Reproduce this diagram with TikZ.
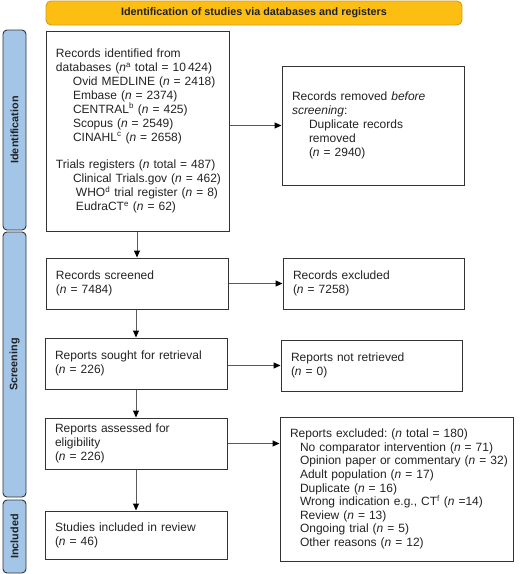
\documentclass[tikz,border=0pt]{standalone}
\usepackage{fontspec}
\setmainfont{Liberation Sans}
\usetikzlibrary{arrows.meta}
\definecolor{bannerfill}{HTML}{FDBE14}
\definecolor{bannerdraw}{HTML}{D49C16}
\definecolor{barfill}{HTML}{A3C5E8}
\definecolor{boxdraw}{HTML}{333333}
\definecolor{linegray}{HTML}{5A5A5A}
\definecolor{txt}{HTML}{222222}
\newcommand{\nn}{\textit{n}}
\newcommand{\lineind}[2]{\mbox{\hspace*{#1}#2}}
\frenchspacing
\begin{document}
\begin{tikzpicture}[x=1pt,y=-1pt,
  box/.style={draw=boxdraw, line width=1pt, rectangle, inner xsep=10pt, inner ysep=0pt,
    align=left, text=txt, font=\fontsize{12}{13.9}\selectfont},
  bar/.style={draw=boxdraw, line width=0.9pt, fill=barfill, rounded corners=4pt, rotate=90,
    inner sep=0pt, minimum height=23pt, text=txt, font=\bfseries\fontsize{10.8}{12}\selectfont},
  banner/.style={draw=bannerdraw, line width=0.9pt, fill=bannerfill, rounded corners=5pt,
    inner sep=0pt, text=txt, font=\bfseries\fontsize{10.8}{12}\selectfont},
  arr/.style={draw=linegray, line width=1pt, -{Triangle[length=7pt,width=6pt,color=black]}}]
\useasboundingbox (0,0) rectangle (520,574);

\node[banner, minimum width=416pt, minimum height=24pt] (banner) at (254,13)
  {Identification of studies via databases and registers};

\node[bar, minimum width=200pt] (barid) at (14.5,130) {Identification};
\node[bar, minimum width=265pt] (barsc) at (14.5,364.5) {Screening};
\node[bar, minimum width=73pt] (barin) at (14.5,536.5) {Included};

\node[box, minimum width=183pt, minimum height=200pt, text width=163pt] (ident) at (137.5,131)
  {\lineind{0pt}{Records identified from}\\
   \lineind{0pt}{databases (\nn\textsuperscript{a} total = 10\,424)}\\
   \lineind{17pt}{Ovid MEDLINE (\nn{} = 2418)}\\
   \lineind{17pt}{Embase (\nn{} = 2374)}\\
   \lineind{17pt}{CENTRAL\textsuperscript{b} (\nn{} = 425)}\\
   \lineind{17pt}{Scopus (\nn{} = 2549)}\\
   \lineind{17pt}{CINAHL\textsuperscript{c} (\nn{} = 2658)}\\[13.9pt]
   \lineind{0pt}{Trials registers (\nn{} total = 487)}\\
   \lineind{17pt}{Clinical Trials.gov (\nn{} = 462)}\\
   \lineind{20pt}{WHO\textsuperscript{d} trial register (\nn{} = 8)}\\
   \lineind{20pt}{EudraCT\textsuperscript{e} (\nn{} = 62)}};

\node[box, minimum width=182pt, minimum height=119pt, text width=162pt] (removed) at (373,125.5)
  {\lineind{0pt}{Records removed \textit{before}}\\
   \lineind{0pt}{\textit{screening}:}\\
   \lineind{17pt}{Duplicate records}\\
   \lineind{17pt}{removed}\\
   \lineind{17pt}{(\nn{} = 2940)}};

\node[box, minimum width=182pt, minimum height=51pt, text width=162pt] (screened) at (137,283.5)
  {Records screened\\(\nn{} = 7484)};
\node[box, minimum width=181pt, minimum height=51pt, text width=161pt] (recexcl) at (373.5,283.5)
  {Records excluded\\(\nn{} = 7258)};

\node[box, minimum width=182pt, minimum height=51pt, text width=162pt] (sought) at (136,363.5)
  {\lineind{0pt}{Reports sought for retrieval}\\(\nn{} = 226)};
\node[box, minimum width=181pt, minimum height=51pt, text width=161pt] (notret) at (371.5,365.5)
  {Reports not retrieved\\(\nn{} = 0)};

\node[box, minimum width=182pt, minimum height=51pt, text width=162pt] (assessed) at (136,443.5)
  {Reports assessed for\\eligibility\\(\nn{} = 226)};
\node[box, minimum width=233pt, minimum height=144pt, text width=213pt,
  font=\fontsize{12}{13.6}\selectfont] (repexcl) at (396.5,489)
  {\lineind{0pt}{Reports excluded: (\nn{} total = 180)}\\
   \lineind{10pt}{No comparator intervention (\nn{} = 71)}\\
   \lineind{10pt}{Opinion paper or commentary (\nn{} = 32)}\\
   \lineind{10pt}{Adult population (\nn{} = 17)}\\
   \lineind{10pt}{Duplicate (\nn{} = 16)}\\
   \lineind{10pt}{Wrong indication e.g., CT\textsuperscript{f} (\nn{} =14)}\\
   \lineind{10pt}{Review (\nn{} = 13)}\\
   \lineind{10pt}{Ongoing trial (\nn{} = 5)}\\
   \lineind{10pt}{Other reasons (\nn{} = 12)}};

\node[box, minimum width=182pt, minimum height=48pt, text width=162pt] (included) at (136,535)
  {Studies included in review\\(\nn{} = 46)\\[-4pt]};

\draw[arr] (ident.south -| screened.north) -- (screened.north);
\draw[arr] (screened.south -| sought.north) -- (sought.north);
\draw[arr] (sought.south) -- (assessed.north);
\draw[arr] (assessed.south) -- (included.north);

\draw[arr] (ident.east |- removed.west) -- (removed.west);
\draw[arr] (screened.east) -- (recexcl.west);
\draw[arr] (sought.east |- notret.west) -- (notret.west);
\draw[arr] (assessed.east) -- (assessed.east -| repexcl.west);
\end{tikzpicture}
\end{document}
